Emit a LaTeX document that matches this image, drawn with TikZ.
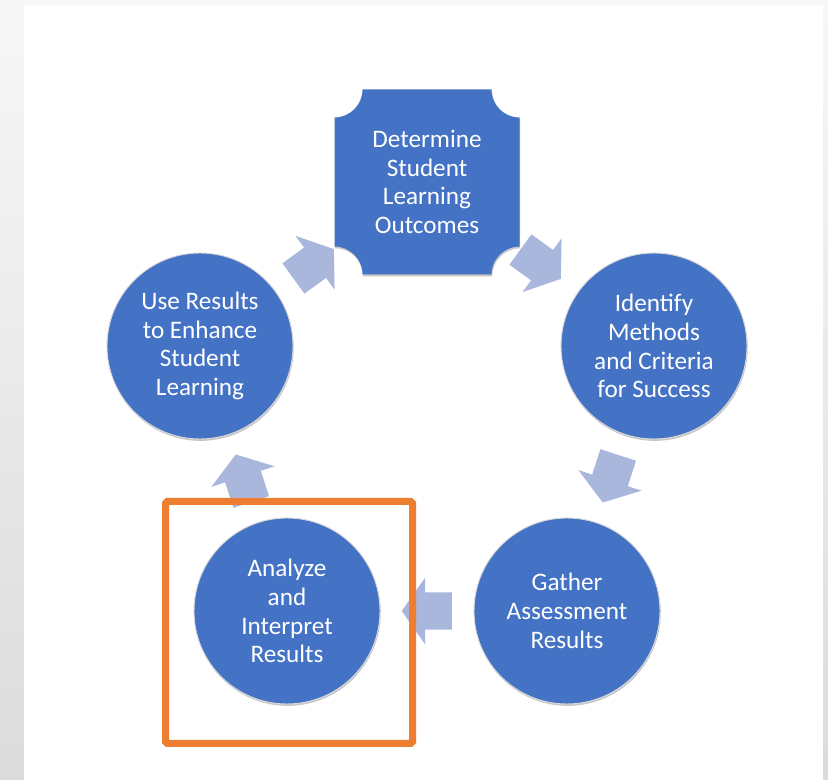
\documentclass[tikz,border=0pt]{standalone}
\usepackage{fontspec}
\setmainfont{Carlito}
\usetikzlibrary{calc,shapes.arrows,shadows}
\definecolor{stepblue}{HTML}{4472C4}
\definecolor{arrowblue}{HTML}{AAB7DD}
\definecolor{markorange}{HTML}{ED7D31}
\begin{document}
\begin{tikzpicture}[x=0.03cm,y=0.03cm]

\def\sz{5.58cm}
\def\hs{92.5}
\def\nr{28}
\tikzstyle{softshadow} = [drop shadow={shadow xshift=0.6pt, shadow yshift=-1.6pt, opacity=0.22, fill=black}];
\tikzstyle{steptext} = [
	text=white, align=center, inner sep=0pt,
	font=\fontsize{21.5}{24.6}\selectfont ];
\tikzstyle{cycleitem} = [
	steptext, circle, fill=stepblue, draw=white!85!black,
	line width=0.8pt, minimum size=\sz, softshadow ];
\tikzstyle{cyclearrow} = [
	single arrow, fill=arrowblue, draw=none, anchor=tail, inner xsep=0pt,
	inner ysep=0.555cm, minimum height=1.5cm,
	single arrow head extend=0.435cm, single arrow tip angle=110 ];

\useasboundingbox (0,0) rectangle (828,780);
\shade[top color=black!3, bottom color=black!14] (0,0) rectangle (828,780);
\fill[white] (24,0) rectangle (823,775);

\fill[stepblue, softshadow]
	(427-\hs+\nr,598+\hs) -- (427+\hs-\nr,598+\hs)
	arc[start angle=180, end angle=270, radius=0.84cm]
	-- (427+\hs,598-\hs+\nr)
	arc[start angle=90, end angle=180, radius=0.84cm]
	-- (427-\hs+\nr,598-\hs)
	arc[start angle=0, end angle=90, radius=0.84cm]
	-- (427-\hs,598+\hs-\nr)
	arc[start angle=270, end angle=360, radius=0.84cm] -- cycle;

\node[steptext, minimum size=\sz] (outcomes) at (427,598) {Determine\\Student\\Learning\\Outcomes};
\node[cycleitem] (identify) at (654,434) {Identify\\Methods\\and Criteria\\for Success};
\node[cycleitem] (gather) at (567,169) {Gather\\Assessment\\Results};
\node[cycleitem] (analyze) at (287,169) {Analyze\\and\\Interpret\\Results};
\node[cycleitem] (use) at (200,434) {Use Results\\to Enhance\\Student\\Learning};

\node[cyclearrow, rotate=-36] (a1) at ($(outcomes)!0.5!(identify)!0.75cm!(outcomes)$) {};
\node[cyclearrow, rotate=-108] (a2) at ($(identify)!0.5!(gather)!0.75cm!(identify)$) {};
\node[cyclearrow, rotate=180] (a3) at ($(gather)!0.5!(analyze)!0.75cm!(gather)$) {};
\node[cyclearrow, rotate=108] (a4) at ($(analyze)!0.5!(use)!0.75cm!(analyze)$) {};
\node[cyclearrow, rotate=36] (a5) at ($(use)!0.5!(outcomes)!0.75cm!(use)$) {};

\draw[markorange, line width=0.21cm, rounded corners=1.5pt] (165.5,278.5) rectangle (412.5,36.5);

\end{tikzpicture}
\end{document}
